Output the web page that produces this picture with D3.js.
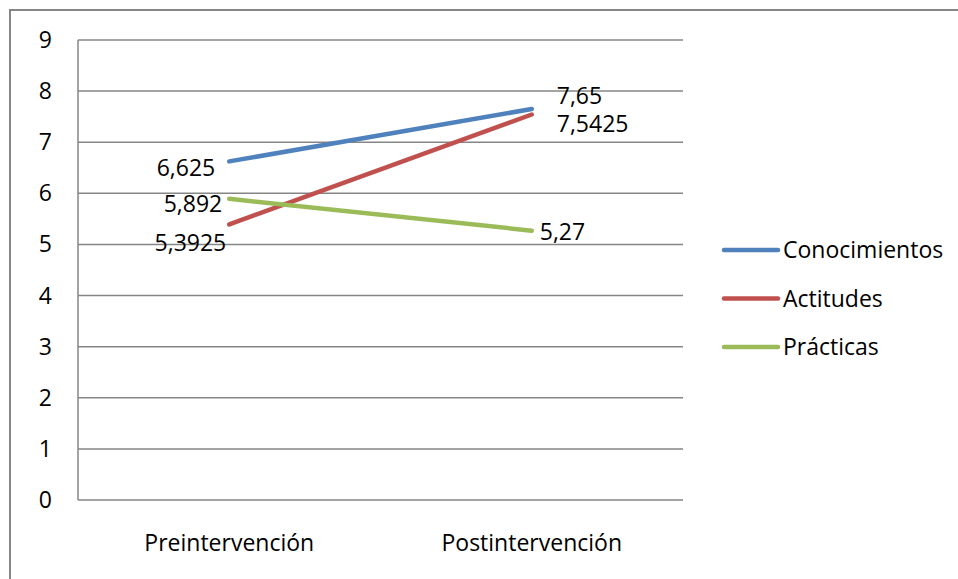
<!DOCTYPE html>
<html><head><meta charset="utf-8">
<script src="https://cdn.jsdelivr.net/npm/d3@7"></script>
<style>body{margin:0;background:#fff}svg{display:block}text{font-family:"Open Sans",sans-serif;fill:#000}</style>
</head><body>
<svg id="c" width="958" height="579"></svg>
<script>
const categories = ["Preintervención", "Postintervención"];
const seriesNames = ["Conocimientos", "Actitudes", "Prácticas"];
const conocimientos = [6.625, 7.65];
const actitudes = [5.3925, 7.5425];
const practicas = [5.892, 5.27];
const labelsConocimientos = ["6,625", "7,65"];
const labelsActitudes = ["5,3925", "7,5425"];
const labelsPracticas = ["5,892", "5,27"];
const yTicks = [0,1,2,3,4,5,6,7,8,9];

const colors = ["#4F81BD", "#C0504D", "#9BBB59"];
const series = [
  {name: seriesNames[0], values: conocimientos, labels: labelsConocimientos},
  {name: seriesNames[1], values: actitudes, labels: labelsActitudes},
  {name: seriesNames[2], values: practicas, labels: labelsPracticas}
];
// label offsets (px) relative to point: [seriesIndex][categoryIndex]
const labelOffsets = [
  [{dx:-14, dy:7, anchor:"end"}, {dx:25, dy:-13, anchor:"start"}],
  [{dx:-3, dy:19, anchor:"end"}, {dx:25, dy:9, anchor:"start"}],
  [{dx:-7, dy:5, anchor:"end"}, {dx:8, dy:1, anchor:"start"}]
];

const svg = d3.select("#c");
const fs = 23;
svg.append("rect").attr("x",10).attr("y",10).attr("width",1000).attr("height",1000)
  .attr("fill","#fff").attr("stroke","#868686").attr("stroke-width",2);

const pLeft = 78, pRight = 683, pTop = 40, pBottom = 500;
const x = d3.scaleBand().domain(categories).range([pLeft,pRight]);
const y = d3.scaleLinear().domain([0,9]).range([pBottom,pTop]);

// gridlines
svg.append("g").selectAll("line").data(yTicks).join("line")
  .attr("x1",pLeft).attr("x2",pRight).attr("y1",d=>y(d)).attr("y2",d=>y(d))
  .attr("stroke","#868686").attr("stroke-width",1.5);
svg.append("line").attr("x1",pLeft).attr("x2",pLeft).attr("y1",pTop).attr("y2",pBottom)
  .attr("stroke","#868686").attr("stroke-width",1.5);

// y axis labels
svg.append("g").selectAll("text").data(yTicks).join("text")
  .attr("x",52).attr("y",d=>y(d)).attr("dy","0.35em").attr("text-anchor","end")
  .attr("font-size",fs).text(d=>d);

// x labels
svg.append("g").selectAll("text").data(categories).join("text")
  .attr("x",d=>x(d)+x.bandwidth()/2).attr("y",551).attr("text-anchor","middle")
  .attr("font-size",fs).text(d=>d);

const line = d3.line().x((d,i)=>x(categories[i])+x.bandwidth()/2).y(d=>y(d));
series.forEach((s,si)=>{
  svg.append("path").datum(s.values).attr("d",line).attr("fill","none")
    .attr("stroke",colors[si]).attr("stroke-width",4.5).attr("stroke-linecap","round");
});
series.forEach((s,si)=>{
  s.values.forEach((v,i)=>{
    const o = labelOffsets[si][i];
    svg.append("text").attr("x",x(categories[i])+x.bandwidth()/2+o.dx).attr("y",y(v)+o.dy)
      .attr("dy","0.35em").attr("text-anchor",o.anchor).attr("font-size",fs).text(s.labels[i]);
  });
});

// legend
const lg = svg.append("g");
series.forEach((s,si)=>{
  const ly = 250 + si*48.5;
  lg.append("line").attr("x1",724).attr("x2",778).attr("y1",ly).attr("y2",ly)
    .attr("stroke",colors[si]).attr("stroke-width",4.5).attr("stroke-linecap","round");
  lg.append("text").attr("x",783).attr("y",ly).attr("dy","0.35em").attr("font-size",fs).text(s.name);
});
</script>
</body></html>
